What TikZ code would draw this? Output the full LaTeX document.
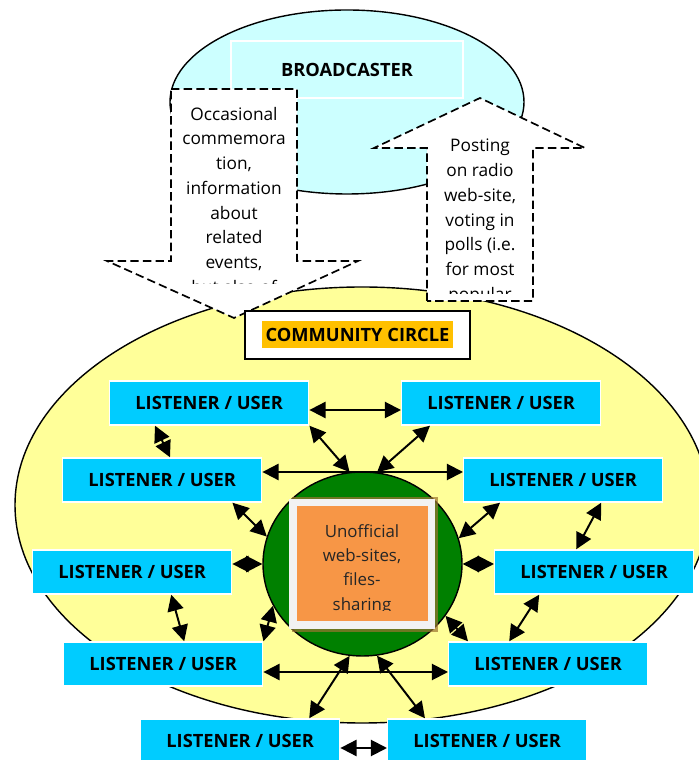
\documentclass[tikz,border=0pt]{standalone}
\usepackage{fontspec}
\setmainfont{Open Sans}
\usetikzlibrary{arrows.meta,shapes.geometric}
\definecolor{bcfill}{HTML}{CCFFFF}
\definecolor{ccfill}{HTML}{FFFF99}
\definecolor{lufill}{HTML}{00CCFF}
\definecolor{hubfill}{HTML}{008000}
\definecolor{webfill}{HTML}{F79646}
\definecolor{webframe}{HTML}{F2F2F2}
\definecolor{webshade}{HTML}{9C7431}
\definecolor{ccmark}{HTML}{FFC000}

\begin{document}
\begin{tikzpicture}[
	listener/.style={draw=white, line width=1pt, fill=lufill, minimum height=1.1cm, minimum width=4.975cm, inner sep=0pt, font=\fontsize{13}{15}\selectfont\bfseries},
	callout/.style={draw, fill=white, line width=1.2pt, dash pattern=on 6pt off 3pt},
	calltext/.style={anchor=north, align=center, inner sep=0pt, font=\fontsize{12.3}{17.6}\selectfont},
	link/.style={arrows={Triangle[length=11.5pt, width=11.5pt]-Triangle[length=11.5pt, width=11.5pt]}, line width=1.4pt},
]

	\useasboundingbox (0, 0) rectangle (17.475, 19);

	\draw (8.675, 16.45) node (bcarea) [ellipse, draw, fill=bcfill, line width=1pt, minimum width=8.85cm, minimum height=4.6cm] {};
	\draw (8.675, 17.2625) node (bc) [draw=white, line width=1pt, minimum width=5.8cm, minimum height=1.425cm, font=\fontsize{13}{15}\selectfont\bfseries] {BROADCASTER};

	\draw (9.05, 6.375) node (ccarea) [ellipse, draw, fill=ccfill, line width=1pt, minimum width=17.35cm, minimum height=10.9cm] {};

	\draw[callout] (4.275, 16.775) -- (7.425, 16.775) -- (7.425, 12.475) -- (8.95, 12.475) -- (5.85, 11.05) -- (2.675, 12.475) -- (4.275, 12.475) -- cycle;
	\begin{scope}
		\clip (4.275, 16.775) rectangle (7.425, 11.9);
		\draw (5.85, 16.33) node (down) [calltext] {Occasional\\commemora\\tion,\\information\\about\\related\\events,\\but also of};
	\end{scope}

	\draw[callout] (10.675, 11.475) -- (10.675, 15.3) -- (9.35, 15.3) -- (12, 16.55) -- (14.625, 15.3) -- (13.325, 15.3) -- (13.325, 11.475) -- cycle;
	\begin{scope}
		\clip (10.675, 16.6) rectangle (13.325, 11.65);
		\draw (12, 15.525) node (up) [calltext] {Posting\\on radio\\web-site,\\voting in\\polls (i.e.\\for most\\popular};
	\end{scope}

	\draw (8.9375, 10.625) node (cc) [draw, fill=white, line width=1.4pt, minimum width=5.625cm, minimum height=1.2cm] {};
	\draw (8.9375, 10.6375) node (cclabel) [fill=ccmark, inner sep=0pt, minimum width=4.775cm, minimum height=0.675cm, font=\fontsize{13}{15}\selectfont\bfseries] {COMMUNITY CIRCLE};

	\draw (9.0625, 4.9) node (hub) [ellipse, draw, fill=hubfill, line width=1pt, inner sep=0pt, minimum width=4.975cm, minimum height=4.6cm] {};
	\fill[webshade, opacity=0.7] (7.3, 6.575) rectangle (10.95, 3.2);
	\draw (9.05, 4.9) node (webframe) [fill=webframe, minimum width=3.65cm, minimum height=3.25cm] {};
	\draw (9.05, 4.9) node (web) [fill=webfill, minimum width=3.275cm, minimum height=2.875cm] {};
	\begin{scope}
		\clip (7.425, 6.325) rectangle (10.7, 3.725);
		\draw (9.05, 5.9) node (webtext) [calltext, text=black!85, font=\fontsize{12}{17.3}\selectfont] {Unofficial\\web-sites,\\files-\\sharing};
	\end{scope}

	\draw (2.725, 8.925) node (lu1) [right, listener] {LISTENER / USER};
	\draw (10.025, 8.925) node (lu2) [right, listener] {LISTENER / USER};
	\draw (1.55, 7) node (lu3) [right, listener] {LISTENER / USER};
	\draw (11.575, 7) node (lu4) [right, listener] {LISTENER / USER};
	\draw (0.8, 4.7) node (lu5) [right, listener] {LISTENER / USER};
	\draw (12.35, 4.7) node (lu6) [right, listener] {LISTENER / USER};
	\draw (1.575, 2.4) node (lu7) [right, listener] {LISTENER / USER};
	\draw (11.2, 2.4) node (lu8) [right, listener] {LISTENER / USER};
	\draw (3.5, 0.475) node (lu9) [right, listener] {LISTENER / USER};
	\draw (9.675, 0.475) node (lu10) [right, listener] {LISTENER / USER};

	\draw[link] ([yshift=-0.175cm]lu1.east) -- ([yshift=-0.175cm]lu2.west);
	\draw[link] (lu1.south east) -- (hub.98);
	\draw[link] ([xshift=0.725cm]lu2.south west) -- (hub.81);
	\draw[link] ([yshift=0.2cm]lu3.east) -- ([yshift=0.2cm]lu4.west);
	\draw[link] ([xshift=1.15cm]lu1.south west) -- ([xshift=2.7cm]lu3.north west);
	\draw[link] ([xshift=0.95cm]lu4.south) -- ([xshift=-0.45cm]lu6.north);
	\draw[link] ([xshift=-0.75cm]lu3.south east) -- (hub.164);
	\draw[link] ([xshift=0.925cm]lu4.south west) -- (hub.15);
	\draw[link] ([yshift=0.2cm]lu5.east) -- (hub.west);
	\draw[link] (hub.east) -- ([yshift=0.2cm]lu6.west);
	\draw[link] ([xshift=0.975cm]lu5.south) -- ([xshift=0.525cm]lu7.north);
	\draw[link] (hub.205) -- (lu7.north east);
	\draw[link] (hub.-32) -- ([xshift=0.5cm]lu8.north west);
	\draw[link] ([xshift=-1.375cm]lu6.south) -- ([xshift=-0.975cm]lu8.north);
	\draw[link] ([yshift=-0.2cm]lu7.east) -- ([yshift=-0.2cm]lu8.west);
	\draw[link] (hub.262) -- ([xshift=1.725cm]lu9.north);
	\draw[link] (hub.279) -- ([xshift=0.95cm]lu10.north west);
	\draw[link] ([yshift=-0.175cm]lu9.east) -- ([yshift=-0.175cm]lu10.west);

\end{tikzpicture}
\end{document}
